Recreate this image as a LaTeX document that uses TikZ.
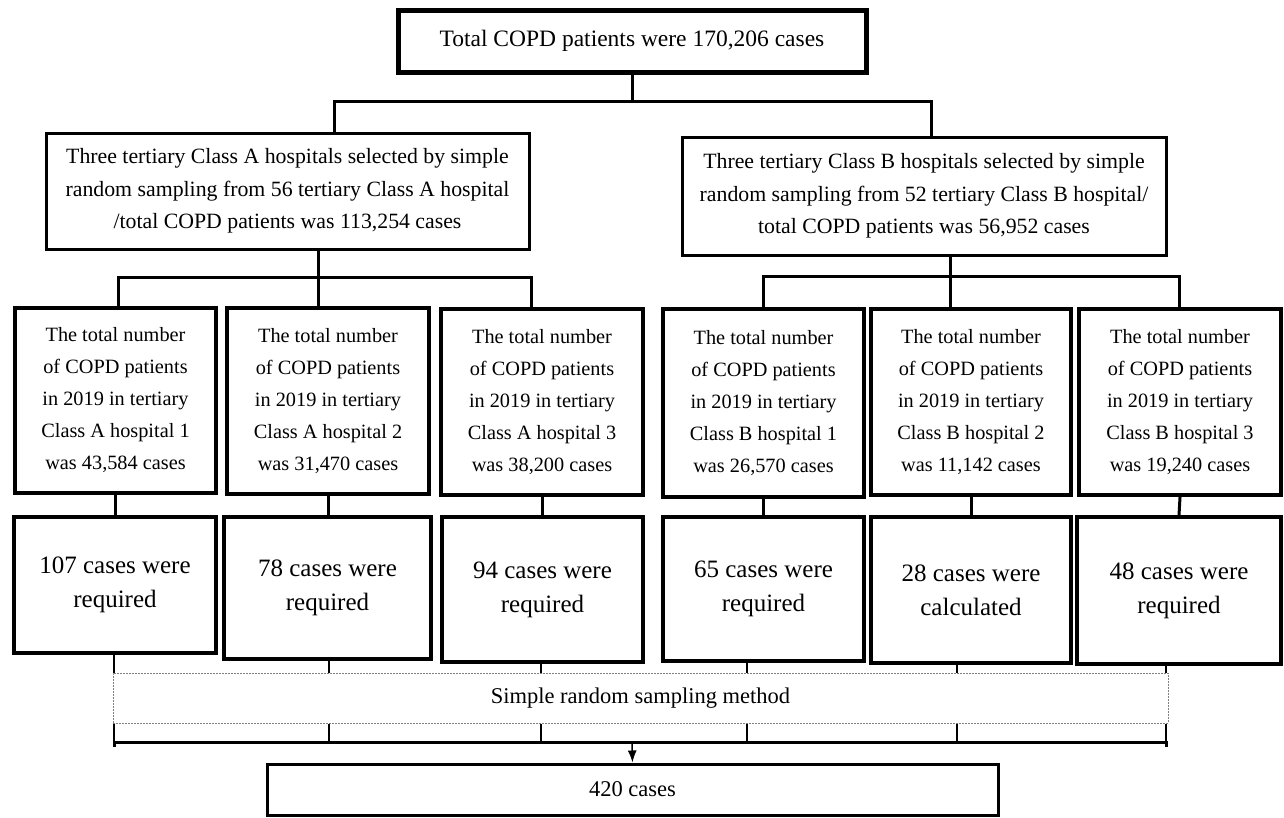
\documentclass[tikz,border=0pt]{standalone}
\usepackage{fontspec}
\setmainfont{Liberation Serif}
\usetikzlibrary{arrows.meta,calc}
\begin{document}
\begin{tikzpicture}[x=1pt,y=-1pt,
  bx/.style={draw, line width=3pt, align=center, inner sep=0pt, text=black},
  thickbx/.style={bx, line width=4pt},
  ftop/.style={font=\fontsize{23.5}{28}\selectfont},
  fcls/.style={font=\fontsize{21.8}{32.5}\selectfont},
  fsm/.style={font=\fontsize{20.3}{32}\selectfont},
  flow/.style={font=\fontsize{25}{34}\selectfont},
  fbot/.style={font=\fontsize{22.5}{26}\selectfont},
  conn/.style={line width=3pt},
  thinconn/.style={line width=2.5pt}]
\useasboundingbox (0,0) rectangle (1284,817);

% top
\node[bx, line width=5pt, minimum width=468pt, minimum height=62pt, ftop] (top) at (632,41) {Total COPD patients were 170,206 cases};

% class boxes
\node[bx, minimum width=483pt, minimum height=116pt, fcls] (clsA) at (287.5,191)
 {Three tertiary Class A hospitals selected by simple\\random sampling from 56 tertiary Class A hospital\\/total COPD patients was 113,254 cases};
\node[bx, minimum width=484pt, minimum height=118pt, fcls] (clsB) at (924,196)
 {Three tertiary Class B hospitals selected by simple\\random sampling from 52 tertiary Class B hospital/\\total COPD patients was 56,952 cases};

% hospital boxes
\node[thickbx, minimum width=201pt, minimum height=185pt, fsm] (A1) at (115.5,400.5)
 {The total number\\of COPD patients\\in 2019 in tertiary\\Class A hospital 1\\was 43,584 cases};
\node[thickbx, minimum width=202pt, minimum height=186pt, fsm] (A2) at (328,401)
 {The total number\\of COPD patients\\in 2019 in tertiary\\Class A hospital 2\\was 31,470 cases};
\node[thickbx, minimum width=202pt, minimum height=186pt, fsm] (A3) at (542,402)
 {The total number\\of COPD patients\\in 2019 in tertiary\\Class A hospital 3\\was 38,200 cases};
\node[thickbx, minimum width=201pt, minimum height=188pt, fsm] (B1) at (763.5,403)
 {The total number\\of COPD patients\\in 2019 in tertiary\\Class B hospital 1\\was 26,570 cases};
\node[thickbx, minimum width=200pt, minimum height=186pt, fsm] (B2) at (971,402)
 {The total number\\of COPD patients\\in 2019 in tertiary\\Class B hospital 2\\was 11,142 cases};
\node[thickbx, minimum width=202pt, minimum height=186pt, fsm] (B3) at (1180,402)
 {The total number\\of COPD patients\\in 2019 in tertiary\\Class B hospital 3\\was 19,240 cases};

% required boxes
\node[thickbx, minimum width=202pt, minimum height=136pt, flow] (L1) at (115,585) {107 cases were\\required};
\node[thickbx, minimum width=207pt, minimum height=142pt, flow] (L2) at (327.5,588) {78 cases were\\required};
\node[thickbx, minimum width=201pt, minimum height=145pt, flow] (L3) at (542.5,589.5) {94 cases were\\required};
\node[thickbx, minimum width=201pt, minimum height=144pt, flow] (L4) at (763.5,589) {65 cases were\\required};
\node[thickbx, minimum width=200pt, minimum height=146pt, flow] (L5) at (971,590) {28 cases were\\calculated};
\node[thickbx, minimum width=204pt, minimum height=147pt, flow] (L6) at (1179,590.5) {48 cases were\\required};

% sampling box
\node[draw=gray, line width=1pt, dash pattern=on 2pt off 1pt, minimum width=1055pt, minimum height=50pt, inner sep=0pt, fbot] (samp) at (640.5,698) {Simple random sampling method};

% final box
\node[bx, minimum width=731pt, minimum height=51pt, fbot] (bot) at (632.5,789.5) {420 cases};

% connectors: top level
\coordinate (j0) at (632,101);
\coordinate (jA) at (334,101);
\coordinate (jB) at (931,101);
\draw[conn] (top.south) -- (j0);
\draw[conn] (jA |- clsA.north) -- (jA) -- (jB) -- (jB |- clsB.north);

% class A branch
\coordinate (ja) at (318,277);
\coordinate (ja1) at (118,277);
\coordinate (ja3) at (531,277);
\draw[conn] (ja |- clsA.south) -- (ja);
\draw[conn] (ja1 |- A1.north) -- (ja1) -- (ja3) -- (ja3 |- A3.north);
\draw[conn] (ja) -- (ja |- A2.north);

% class B branch
\coordinate (jb) at (950,276);
\coordinate (jb1) at (763,276);
\coordinate (jb3) at (1179,276);
\draw[conn] (jb |- clsB.south) -- (jb);
\draw[conn] (jb1 |- B1.north) -- (jb1) -- (jb3) -- (jb3 |- B3.north);
\draw[conn] (jb) -- (jb |- B2.north);

% hospital to required
\draw[conn] (A1.south) -- (A1.south |- L1.north);
\draw[conn] (A2.south) -- (A2.south |- L2.north);
\draw[conn] (A3.south) -- (A3.south |- L3.north);
\draw[conn] (B1.south) -- (B1.south |- L4.north);
\draw[conn] (B2.south) -- (B2.south |- L5.north);
\draw[conn] (B3.south) -- (L6.north);

% required to sampling and bus
\foreach \i/\x in {1/114,2/329,3/541,4/747,5/957,6/1166}{
  \coordinate (v\i) at (\x,742);
  \draw[thinconn] (v\i |- L\i.south) -- (v\i |- samp.north);
  \draw[thinconn] (v\i |- samp.south) -- (v\i);
}
\draw[conn] ($(v1)+(0,5)$) -- (v1) -- (v6) -- ($(v6)+(0,5)$);
\coordinate (va) at (632,744);
\draw[line width=1.5pt, -{Latex[length=12pt,width=9pt]}] (va) -- (bot.north);
\end{tikzpicture}
\end{document}
